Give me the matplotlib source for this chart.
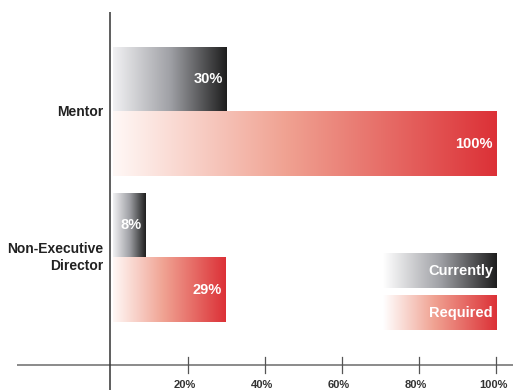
import matplotlib.pyplot as plt
import numpy as np
from matplotlib.colors import LinearSegmentedColormap

# data
categories = ['Mentor', 'Non-Executive\nDirector']
currently = [30, 8.9]
required = [100, 29.7]
currently_labels = ['30%', '8%']
required_labels = ['100%', '29%']
tick_values = [20, 40, 60, 80, 100]
tick_labels = ['20%', '40%', '60%', '80%', '100%']
legend_labels = ['Currently', 'Required']

plt.rcParams['font.family'] = ['Liberation Sans', 'DejaVu Sans']

gray_cmap = LinearSegmentedColormap.from_list(
    'gray_grad', [(0, '#f1f1f3'), (0.5, '#a0a1a6'), (1, '#1e1e1e')])
red_cmap = LinearSegmentedColormap.from_list(
    'red_grad', [(0, '#fff8f6'), (0.45, '#f0a292'), (1, '#dc3137')])
gray_legend = LinearSegmentedColormap.from_list(
    'gray_leg', [(0, '#ffffff'), (0.5, '#a0a1a6'), (1, '#1e1e1e')])
red_legend = LinearSegmentedColormap.from_list(
    'red_leg', [(0, '#ffffff'), (0.45, '#f0a292'), (1, '#dc3137')])

grad = np.linspace(0, 1, 256).reshape(1, -1)

fig = plt.figure(figsize=(5.15, 3.9), dpi=100, facecolor='white')
ax = fig.add_axes([0, 0, 1, 1], frameon=False)
ax.set_xlim(-28.6, 104.8)
ax.set_ylim(-0.906, 1.765)
ax.set_xticks([])
ax.set_yticks([])


def gradient_bar(x0, x1, yc, h, cmap, text=None):
    ax.imshow(grad, cmap=cmap, aspect='auto', interpolation='bicubic',
              extent=(x0, x1, yc - h / 2, yc + h / 2), zorder=2)
    if text is not None:
        ax.text(x1 - 0.9, yc, text, color='white', fontsize=10.5,
                fontweight='bold', ha='right', va='center', zorder=3)


bar_h = 0.442
ypos = [1, 0]
for i, cat in enumerate(categories):
    y = ypos[i]
    gradient_bar(0.6, currently[i], y + bar_h / 2, bar_h, gray_cmap,
                 currently_labels[i])
    gradient_bar(0.6, required[i], y - bar_h / 2, bar_h, red_cmap,
                 required_labels[i])
    ax.text(-1.8, y, cat, ha='right', va='center', fontsize=10,
            fontweight='bold', color='#222222', multialignment='right',
            linespacing=1.25)

# legend boxes
leg_h = 0.233
gradient_bar(70.5, 100, -0.091, leg_h, gray_legend, legend_labels[0])
gradient_bar(70.5, 100, -0.381, leg_h, red_legend, legend_labels[1])

# axes lines
x_axis_y = -0.735
ax.plot([-24.1, 104.3], [x_axis_y, x_axis_y], color='#777777', lw=1.2,
        zorder=4, solid_capstyle='butt')
ax.plot([0, 0], [-0.906, 1.683], color='#333333', lw=1.1, zorder=4,
        solid_capstyle='butt')
for v, lab in zip(tick_values, tick_labels):
    ax.plot([v, v], [x_axis_y - 0.052, x_axis_y + 0.052], color='#555555',
            lw=0.9, zorder=4)
    ax.text(v - 0.8, -0.875, lab, ha='center', va='center', fontsize=8,
            fontweight='bold', color='#333333')

plt.savefig('out.png', dpi=100, facecolor='white')
